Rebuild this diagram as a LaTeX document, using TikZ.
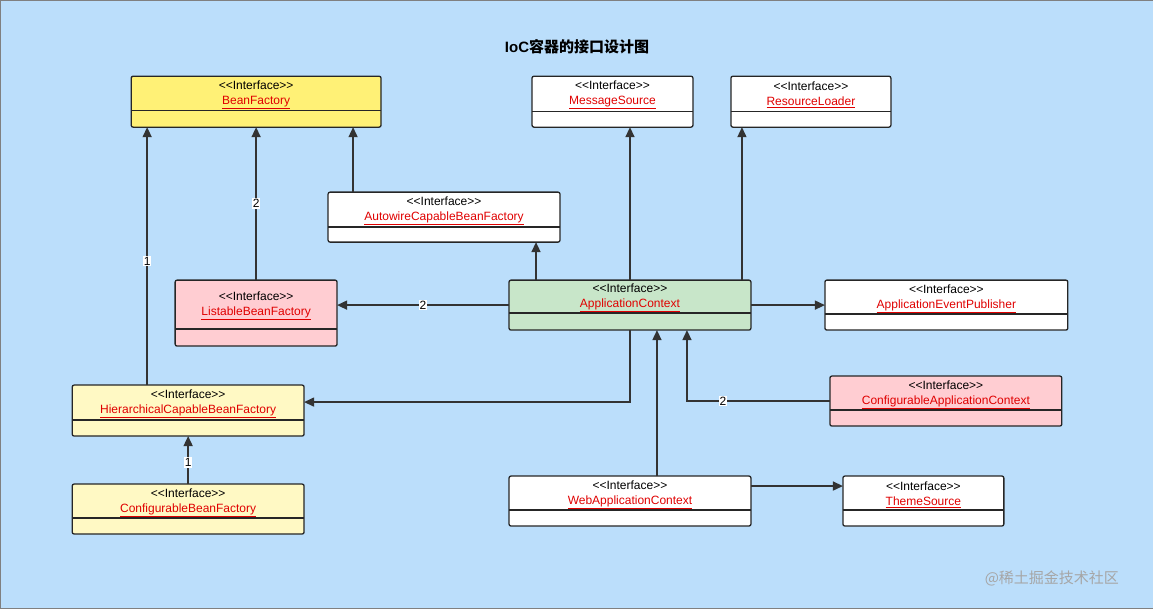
\documentclass[tikz,border=0pt]{standalone}
\usepackage{fontspec}
\setmainfont{Liberation Sans}
\newfontfamily\cjk{Noto Sans CJK SC}
\usetikzlibrary{arrows.meta}
\definecolor{bg}{HTML}{BBDEFB}
\definecolor{ylw}{HTML}{FFF176}
\definecolor{lylw}{HTML}{FFF9C4}
\definecolor{lred}{HTML}{FFCDD2}
\definecolor{lgrn}{HTML}{C8E6C9}
\definecolor{nm}{HTML}{E00000}
\newcommand{\ltlt}{\textless\kern0pt\textless}
\newcommand{\gtgt}{\textgreater\kern0pt\textgreater}
\tikzset{x=1pt,y=-1pt,
 edge/.style={draw=black!80,line width=1.5pt,-{Triangle[length=10pt,width=9pt]}},
 lbl/.style={fill=white,inner sep=1pt,font=\fontsize{12}{14}\selectfont}}
\newcommand{\ibox}[8]{% name, x1,y1,x2,y2, sep, fill, text
 \path[fill=#7,draw=black!85,line width=1.3pt,rounded corners=2pt] (#2,#3) rectangle (#4,#5);
 \draw[black!85,line width=1.3pt] (#2,#6) -- (#4,#6);
 \node[inner sep=0pt,align=center,font=\fontsize{12}{15}\selectfont] (#1) at ({(#2+#4)/2},{(#3+#6)/2+1.5}) {\ltlt Interface\gtgt\\\textcolor{nm}{\underline{#8}}};
 \coordinate (#1-a) at (#2,#3); \coordinate (#1-b) at (#4,#5);}
\begin{document}
\begin{tikzpicture}
\path[fill=bg,draw=black!50] (0,0) rectangle (1153,608);
\node[font=\bfseries\fontsize{15}{18}\selectfont] (title) at (577,47) {IoC{\cjk 容器的接口设计图}};
\node[text=gray!70,font=\cjk\fontsize{15}{17}\selectfont] (wm) at (1052,578) {@稀土掘金技术社区};
\ibox{bf}{131}{76}{381}{127}{110}{ylw}{BeanFactory}
\ibox{ms}{532}{76}{693}{127}{111}{white}{MessageSource}
\ibox{rl}{731}{76}{891}{127}{111}{white}{ResourceLoader}
\ibox{acbf}{328}{192}{560}{242}{227}{white}{AutowireCapableBeanFactory}
\ibox{lbf}{175}{280}{337}{346}{329}{lred}{ListableBeanFactory}
\ibox{ac}{509}{280}{751}{330}{313}{lgrn}{ApplicationContext}
\ibox{aep}{825}{280}{1068}{330}{314}{white}{ApplicationEventPublisher}
\ibox{hbf}{72}{385}{304}{436}{420}{lylw}{HierarchicalCapableBeanFactory}
\ibox{cac}{830}{376}{1062}{426}{410}{lred}{ConfigurableApplicationContext}
\ibox{cbf}{72}{484}{304}{534}{518}{lylw}{ConfigurableBeanFactory}
\ibox{wac}{509}{476}{751}{526}{510}{white}{WebApplicationContext}
\ibox{ts}{843}{476}{1004}{526}{510}{white}{ThemeSource}
\draw[edge] (256,280) -- (256,127) node[lbl,pos=0.5] {2};
\draw[edge] (353,192) -- (353,127);
\draw[edge] (147,385) -- (147,127) node[lbl,pos=0.48] {1};
\draw[edge] (536,280) -- (536,242);
\draw[edge] (630,280) -- (630,127);
\draw[edge] (742,280) -- (742,127);
\draw[edge] (509,305) -- (337,305) node[lbl,pos=0.5] {2};
\draw[edge] (751,305) -- (825,305);
\draw[edge] (630,330) -- (630,402) -- (304,402);
\draw[edge] (830,401) -- (687,401) -- (687,330);
\node[lbl] (l2) at (723,401) {2};
\draw[edge] (657,476) -- (657,330);
\draw[edge] (751,486) -- (843,486);
\draw[edge] (188,484) -- (188,436) node[lbl,pos=0.45] {1};
\end{tikzpicture}
\end{document}
